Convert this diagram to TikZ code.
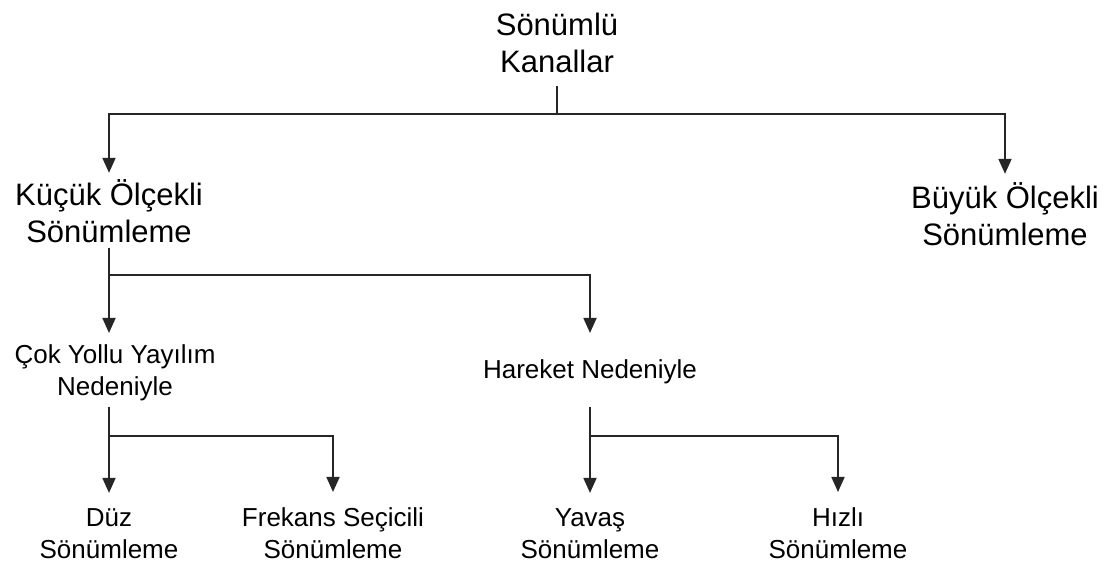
\documentclass[tikz,border=0pt]{standalone}
\usepackage{fontspec}
\setmainfont{Liberation Sans}
\usetikzlibrary{arrows.meta}
\begin{document}
\begin{tikzpicture}[x=1pt,y=-1pt,
  big/.style={font=\fontsize{31}{37}\selectfont, align=center, inner sep=0pt, anchor=base},
  small/.style={font=\fontsize{26}{32}\selectfont, align=center, inner sep=0pt, anchor=base},
  conn/.style={draw=black!85, line width=1.8pt},
  arr/.style={conn, -{Triangle[length=15pt,width=13pt]}}]
\useasboundingbox[fill=white] (0,0) rectangle (1116,565);
% nodes (anchored at the baseline of the last line)
\node[big] (root) at (557,72) {Sönümlü\\Kanallar};
\node[big] (kucuk) at (109,242) {Küçük Ölçekli\\Sönümleme};
\node[big] (buyuk) at (1005,245) {Büyük Ölçekli\\Sönümleme};
\node[small] (cok) at (115,395) {Çok Yollu Yayılım\\Nedeniyle};
\node[small] (hareket) at (590,378) {Hareket Nedeniyle};
\node[small] (duz) at (109,558) {Düz\\Sönümleme};
\node[small] (frekans) at (333,558) {Frekans Seçicili\\Sönümleme};
\node[small] (yavas) at (590,558) {Yavaş\\Sönümleme};
\node[small] (hizli) at (838,558) {Hızlı\\Sönümleme};
% junctions
\coordinate (j1) at (557,114);
\coordinate (j2) at (109,275);
\coordinate (j3) at (109,436);
\coordinate (j4) at (590,436);
\coordinate (cokin) at ([yshift=11pt]cok.north);
\coordinate (cokout) at ([yshift=-6pt]cok.south);
% connectors
\draw[conn] ([yshift=-13pt]root.south) -- (j1);
\draw[arr] (j1) -| ([yshift=6pt]kucuk.north);
\draw[arr] (j1) -| ([yshift=8pt]buyuk.north);
\draw[conn] ([yshift=-5pt]kucuk.south) -- (j2);
\draw[arr] (j2) -- (j2 |- cokin);
\draw[arr] (j2) -| ([yshift=26pt]hareket.north);
\draw[conn] (j3 |- cokout) -- (j3);
\draw[arr] (j3) -- ([yshift=15pt]duz.north);
\draw[arr] (j3) -| ([yshift=15pt]frekans.north);
\draw[conn] ([yshift=-23pt]hareket.south) -- (j4);
\draw[arr] (j4) -- ([yshift=15pt]yavas.north);
\draw[arr] (j4) -| ([yshift=15pt]hizli.north);
\end{tikzpicture}
\end{document}
